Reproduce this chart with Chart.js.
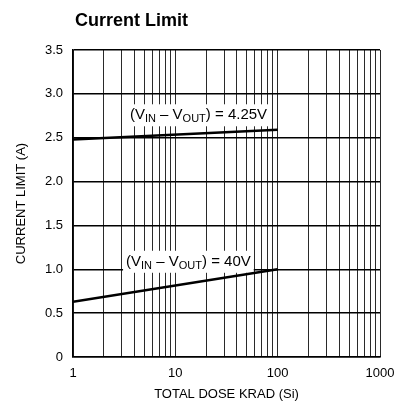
<!DOCTYPE html>
<html>
<head>
<meta charset="utf-8">
<script src="https://cdn.jsdelivr.net/npm/chart.js@4/dist/chart.umd.min.js"></script>
<style>
html,body{margin:0;padding:0;background:#fff;}
#wrap{width:406px;height:406px;}
</style>
</head>
<body>
<div id="wrap"><canvas id="c" width="406" height="406"></canvas></div>
<script>
// Data
const chartTitle = "Current Limit";
const xTitle = "TOTAL DOSE KRAD (Si)";
const yTitle = "CURRENT LIMIT (A)";
const doseKrad = [1, 100];
const limit425V = [2.48, 2.59];
const limit40V = [0.63, 1.0];
const xTickValues = [1,2,3,4,5,6,7,8,9,10,20,30,40,50,60,70,80,90,100,200,300,400,500,600,700,800,900,1000];
const xLabelValues = [1, 10, 100, 1000];
const labelTexts = [
  {parts: [["(V",0],["IN",1],[" – V",0],["OUT",1],[") = 4.25V",0]], x: 3.6, y: 2.71},
  {parts: [["(V",0],["IN",1],[" – V",0],["OUT",1],[") = 40V",0]], x: 3.3, y: 1.04}
];

const FONT = "'Liberation Sans', Arial, Helvetica, sans-serif";
const MAIN = '15px ';
const SUB = '11px ';

function pts(xs, ys){ return xs.map((x,i)=>({x:x, y:ys[i]})); }

const annot = {
  id: 'annot',
  beforeDatasetsDraw(chart){
    const ctx = chart.ctx;
    const xs = chart.scales.x, ys = chart.scales.y;
    ctx.save();
    labelTexts.forEach(l => {
      const x0 = xs.getPixelForValue(l.x);
      const base = ys.getPixelForValue(l.y);
      let w = 0;
      l.parts.forEach(p => {
        ctx.font = (p[1] ? SUB : MAIN) + FONT;
        w += ctx.measureText(p[0]).width;
      });
      ctx.fillStyle = '#fff';
      ctx.fillRect(x0 - 3, base - 15, w + 6, 22);
      let x = x0;
      ctx.fillStyle = '#000';
      ctx.textBaseline = 'alphabetic';
      ctx.textAlign = 'left';
      l.parts.forEach(p => {
        ctx.font = (p[1] ? SUB : MAIN) + FONT;
        ctx.fillText(p[0], x, base + (p[1] ? 3 : 0));
        x += ctx.measureText(p[0]).width;
      });
    });
    ctx.restore();
  },
  afterDraw(chart){
    const ctx = chart.ctx;
    ctx.save();
    ctx.font = 'bold 18px ' + FONT;
    ctx.fillStyle = '#000';
    ctx.textBaseline = 'alphabetic';
    ctx.textAlign = 'left';
    ctx.fillText(chartTitle, 75, 26);
    ctx.restore();
  }
};

new Chart(document.getElementById('c'), {
  type: 'line',
  data: {
    datasets: [
      {data: pts(doseKrad, limit425V), borderColor:'#000', borderWidth:2.6, pointRadius:0, fill:false, tension:0},
      {data: pts(doseKrad, limit40V), borderColor:'#000', borderWidth:2.6, pointRadius:0, fill:false, tension:0}
    ]
  },
  plugins: [annot],
  options: {
    responsive: false,
    animation: false,
    events: [],
    layout: {padding: {left: 0, right: 26, top: 50, bottom: 0}},
    plugins: {legend:{display:false}, tooltip:{enabled:false}, title:{display:false}},
    scales: {
      x: {
        type: 'logarithmic',
        min: 1, max: 1000,
        afterBuildTicks(scale){ scale.ticks = xTickValues.map(v=>({value:v})); },
        afterFit(scale){ scale.height = 49; },
        ticks: {
          autoSkip: false, maxRotation: 0, padding: 9,
          color:'#000', font:{family:FONT, size:13},
          callback(v){ return xLabelValues.includes(v) ? String(v) : ''; }
        },
        grid: {color:'#2a2a2a', lineWidth:1, drawTicks:false},
        border: {color:'#000', width:1.5},
        title: {display:true, text:xTitle, color:'#000', font:{family:FONT, size:13}, padding:{top:0,bottom:4}}
      },
      y: {
        min: 0, max: 3.5,
        afterBuildTicks(scale){ const t=[]; for(let i=0;i<=7;i++) t.push({value:i*0.5}); scale.ticks=t; },
        afterFit(scale){ scale.width = 73; },
        ticks: {
          padding: 10, color:'#000', font:{family:FONT, size:13},
          callback(v){ return v === 0 ? '0' : Number(v).toFixed(1); }
        },
        grid: {color:'#000', lineWidth:1.5, drawTicks:false},
        border: {color:'#000', width:1.5},
        title: {display:true, text:yTitle, color:'#000', font:{family:FONT, size:13}, padding:{top:14,bottom:0}}
      }
    }
  }
});
</script>
</body>
</html>
